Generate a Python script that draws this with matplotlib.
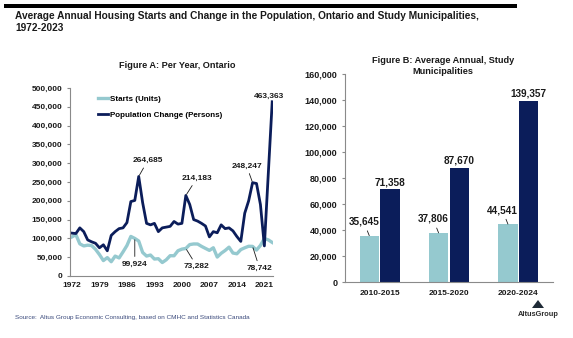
"""
Housing starts vs population change, Ontario
"""
import matplotlib.pyplot as plt
from matplotlib.patches import Rectangle, Polygon
from matplotlib.ticker import FuncFormatter
import numpy as np

plt.rcParams['font.family'] = ['Liberation Sans', 'DejaVu Sans']

# Figure A data (Ontario, per year)
years = list(range(1972, 2024))
starts = [104000, 110000, 85500, 80000, 82000, 81000, 71000, 57000, 41000, 49000,
          38000, 53000, 48000, 64000, 81000, 105213, 99924, 93000, 62600, 53000,
          55800, 45100, 46000, 35800, 43000, 54000, 53800, 67200, 71500, 73282,
          83600, 85200, 85100, 78800, 73400, 68100, 75100, 50400, 60400, 67800,
          76700, 61100, 59100, 70200, 75000, 79100, 78742, 69000, 81300, 99600,
          96100, 89300]
pop_change = [114000, 113000, 128000, 118000, 96000, 91000, 87000, 75000, 83000, 67000,
              108000, 118000, 126000, 128000, 142000, 198000, 201000, 264685, 195000, 140000,
              136000, 140000, 118000, 128000, 130000, 132000, 145000, 138000, 140000, 214183,
              190000, 150000, 146000, 140000, 133000, 104000, 118000, 115000, 136000, 126000,
              128000, 120000, 105000, 92000, 167000, 200000, 248247, 246000, 190000, 80000,
              272000, 463363]
year_ticks = [1972, 1979, 1986, 1993, 2000, 2007, 2014, 2021]
starts_label_years = [1988, 2001, 2018]
pop_label_years = [1989, 2001, 2018, 2023]

# Figure B data (study municipalities, average annual)
periods = ['2010-2015', '2015-2020', '2020-2024']
starts_avg = [35645, 37806, 44541]
pop_avg = [71358, 87670, 139357]

LIGHT = '#95c9cf'
DARK = '#0b1d5a'
SPINE = '#8a8a8a'
TXT = '#1a1a1a'

comma = FuncFormatter(lambda v, p: f'{v:,.0f}')

fig = plt.figure(figsize=(5.73, 3.38), dpi=100)

# top rule and headline
fig.add_artist(Rectangle((4 / 573, 1 - 7.5 / 338), 513 / 573, 3.5 / 338,
                         transform=fig.transFigure, color='black', lw=0))
fig.text(15 / 573, 1 - 11 / 338,
         'Average Annual Housing Starts and Change in the Population, Ontario and Study Municipalities,\n1972-2023',
         fontsize=7.3, fontweight='bold', color=TXT, va='top', ha='left', linespacing=1.25)

# ---------- Figure A ----------
ax1 = fig.add_axes([70 / 573, 1 - 276 / 338, 203 / 573, 188 / 338])
ax1.plot(years, starts, color=LIGHT, lw=2.4, label='Starts (Units)', solid_joinstyle='round')
ax1.plot(years, pop_change, color=DARK, lw=2.0, label='Population Change (Persons)',
         solid_joinstyle='round')

ax1.set_xlim(1971.5, 2023.2)
ax1.set_ylim(0, 500000)
ax1.set_yticks(np.arange(0, 500001, 50000))
ax1.set_xticks(year_ticks)
ax1.yaxis.set_major_formatter(comma)
for s in ['top', 'right']:
    ax1.spines[s].set_visible(False)
for s in ['left', 'bottom']:
    ax1.spines[s].set_color(SPINE)
ax1.tick_params(axis='y', length=2.5, color=SPINE, labelsize=6, pad=3, labelcolor=TXT)
ax1.tick_params(axis='x', length=0, labelsize=6, pad=4, labelcolor=TXT)
for lab in ax1.get_xticklabels() + ax1.get_yticklabels():
    lab.set_fontweight('bold')

ax1.legend(loc='upper left', bbox_to_anchor=(0.1, 1.0), frameon=False, handlelength=1.3,
           handletextpad=0.25, labelspacing=1.0, prop={'size': 5.8, 'weight': 'bold'})

ann = dict(fontsize=6, fontweight='bold', color=TXT, ha='center', va='center',
           textcoords='offset points')
line = dict(arrowstyle='-', color=TXT, lw=0.6, shrinkA=1, shrinkB=1)
pop_offsets = [(6.5, 11.5), (8, 12.5), (-4.3, 12), (-2, 4)]
for yr, off in zip(pop_label_years, pop_offsets):
    v = pop_change[years.index(yr)]
    ax1.annotate(f'{v:,}', xy=(yr, v), xytext=off,
                 arrowprops=line if yr != 2023 else None, annotation_clip=False, **ann)
starts_offsets = [(0, -18.5), (8, -13), (5, -15.8)]
for yr, off in zip(starts_label_years, starts_offsets):
    v = starts[years.index(yr)]
    ax1.annotate(f'{v:,}', xy=(yr, v), xytext=off, arrowprops=line, **ann)

fig.text(177 / 573, 1 - 65 / 338, 'Figure A: Per Year, Ontario', fontsize=6.6,
         fontweight='bold', color=TXT, ha='center', va='center')

# ---------- Figure B ----------
ax2 = fig.add_axes([345 / 573, 1 - 282 / 338, 208 / 573, 208 / 338])
x = np.arange(len(periods))
w = 0.28
ax2.bar(x - 0.15, starts_avg, width=w, color=LIGHT)
ax2.bar(x + 0.15, pop_avg, width=w, color=DARK)
ax2.set_xlim(-0.5, 2.5)
ax2.set_ylim(0, 160000)
ax2.set_yticks(np.arange(0, 160001, 20000))
ax2.set_xticks(x)
ax2.set_xticklabels(periods)
ax2.yaxis.set_major_formatter(comma)
for s in ['top', 'right']:
    ax2.spines[s].set_visible(False)
for s in ['left', 'bottom']:
    ax2.spines[s].set_color(SPINE)
ax2.tick_params(axis='y', length=2.5, color=SPINE, labelsize=6.5, pad=3, labelcolor=TXT)
ax2.tick_params(axis='x', length=0, labelsize=6, pad=6, labelcolor=TXT)
for lab in ax2.get_xticklabels() + ax2.get_yticklabels():
    lab.set_fontweight('bold')

for xi, v in zip(x, pop_avg):
    ax2.annotate(f'{v:,}', xy=(xi + 0.15, v), xytext=(0, 1.5), textcoords='offset points',
                 ha='center', va='bottom', fontsize=7.2, fontweight='bold', color=TXT)
for xi, v in zip(x, starts_avg):
    ax2.annotate(f'{v:,}', xy=(xi - 0.15, v), xytext=(-4, 10), textcoords='offset points',
                 ha='center', va='center', fontsize=7.2, fontweight='bold', color=TXT,
                 arrowprops=dict(arrowstyle='-', color=TXT, lw=0.6, shrinkA=1, shrinkB=0))

fig.text(443 / 573, 1 - 66 / 338, 'Figure B: Average Annual, Study\nMunicipalities',
         fontsize=6.6, fontweight='bold', color=TXT, ha='center', va='center',
         multialignment='center', linespacing=1.15)

# footer: source and logo
fig.text(15 / 573, 1 - 317 / 338,
         'Source:  Altus Group Economic Consulting, based on CMHC and Statistics Canada',
         fontsize=4.6, color='#3b4a7c', ha='left', va='center')
fig.add_artist(Polygon([(532 / 573, 1 - 308 / 338), (538 / 573, 1 - 300 / 338),
                        (544 / 573, 1 - 308 / 338)], closed=True,
                       transform=fig.transFigure, color='#1f2a36', lw=0))
fig.text(538 / 573, 1 - 315 / 338, 'AltusGroup', fontsize=5.3, fontweight='bold',
         color='#2b2b2b', ha='center', va='center')

fig.savefig('out.png', dpi=100)
